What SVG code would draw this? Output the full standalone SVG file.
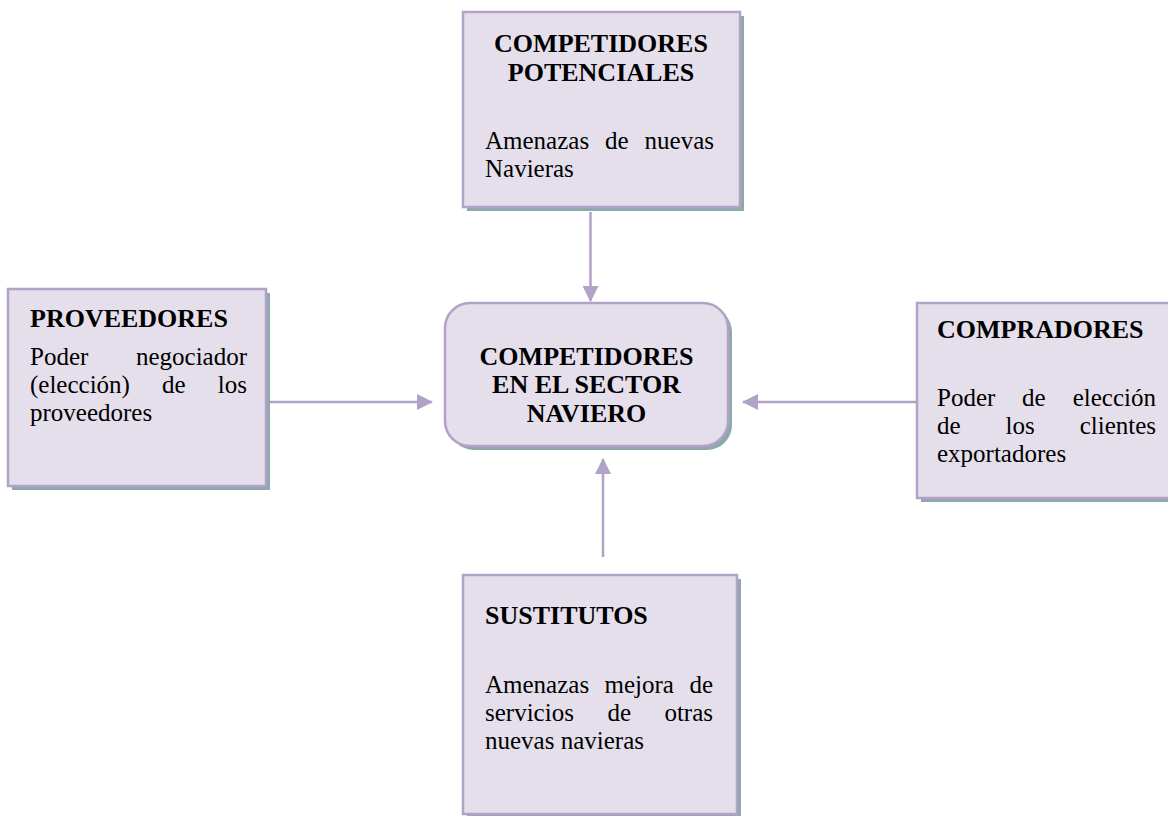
<svg xmlns="http://www.w3.org/2000/svg" width="1168" height="816" viewBox="0 0 1168 816">
<defs>
<style>
.box{fill:#e5dfec;stroke:#b3a2c7;stroke-width:2.5}
.shadow{fill:#8ea9ac}
.t{font-family:"Liberation Serif","DejaVu Serif",serif;font-size:26px;font-weight:700;fill:#000}
.b{font-family:"Liberation Serif","DejaVu Serif",serif;font-size:25px;font-weight:400;font-style:normal;fill:#000}
.conn{stroke:#b3a2c7;stroke-width:2.5;fill:none}
</style>
<marker id="arr" viewBox="0 0 16 16" refX="15" refY="8" markerWidth="16" markerHeight="16" markerUnits="userSpaceOnUse" orient="auto">
<path d="M0,0 L16,8 L0,16 Z" fill="#b3a2c7"/>
</marker>
</defs>
<rect width="1168" height="816" fill="#ffffff"/>

<g id="connectors">
<line class="conn" x1="590.5" y1="212" x2="590.5" y2="301" marker-end="url(#arr)"/>
<line class="conn" x1="270" y1="402" x2="432" y2="402" marker-end="url(#arr)"/>
<line class="conn" x1="917" y1="402" x2="743" y2="402" marker-end="url(#arr)"/>
<line class="conn" x1="603" y1="557" x2="603" y2="459" marker-end="url(#arr)"/>
</g>

<g id="potenciales">
<rect class="shadow" x="467" y="16" width="277" height="195"/>
<rect class="box" x="463" y="12" width="277" height="195"/>
<text class="t" x="601" y="52" text-anchor="middle">COMPETIDORES</text>
<text class="t" x="601" y="81" text-anchor="middle">POTENCIALES</text>
<text class="b" x="485" y="149">Amenazas</text>
<text class="b" x="605" y="149">de</text>
<text class="b" x="714" y="149" text-anchor="end">nuevas</text>
<text class="b" x="485" y="177">Navieras</text>
</g>

<g id="proveedores">
<rect class="shadow" x="12" y="293" width="258" height="197"/>
<rect class="box" x="8" y="289" width="258" height="197"/>
<text class="t" x="30" y="327">PROVEEDORES</text>
<text class="b" x="30" y="365">Poder</text>
<text class="b" x="247" y="365" text-anchor="end">negociador</text>
<text class="b" x="30" y="393">(elección)</text>
<text class="b" x="162" y="393">de</text>
<text class="b" x="247" y="393" text-anchor="end">los</text>
<text class="b" x="30" y="421">proveedores</text>
</g>

<g id="centro">
<rect class="shadow" x="449" y="307" width="283" height="143" rx="25"/>
<rect class="box" x="445" y="303" width="283" height="143" rx="25"/>
<text class="t" x="586.5" y="365" text-anchor="middle">COMPETIDORES</text>
<text class="t" x="586.5" y="393" text-anchor="middle">EN EL SECTOR</text>
<text class="t" x="586.5" y="422" text-anchor="middle">NAVIERO</text>
</g>

<g id="compradores">
<rect class="shadow" x="921" y="307" width="260" height="195"/>
<rect class="box" x="917" y="303" width="260" height="195"/>
<text class="t" x="937" y="338">COMPRADORES</text>
<text class="b" x="937" y="406">Poder</text>
<text class="b" x="1022" y="406">de</text>
<text class="b" x="1156" y="406" text-anchor="end">elección</text>
<text class="b" x="937" y="434">de</text>
<text class="b" x="1005.5" y="434">los</text>
<text class="b" x="1156" y="434" text-anchor="end">clientes</text>
<text class="b" x="937" y="462">exportadores</text>
</g>

<g id="sustitutos">
<rect class="shadow" x="467" y="579" width="274" height="239"/>
<rect class="box" x="463" y="575" width="274" height="239"/>
<text class="t" x="485" y="624">SUSTITUTOS</text>
<text class="b" x="485" y="693">Amenazas</text>
<text class="b" x="604.5" y="693">mejora</text>
<text class="b" x="713" y="693" text-anchor="end">de</text>
<text class="b" x="485" y="721">servicios</text>
<text class="b" x="607.5" y="721">de</text>
<text class="b" x="713" y="721" text-anchor="end">otras</text>
<text class="b" x="485" y="749">nuevas navieras</text>
</g>
</svg>
